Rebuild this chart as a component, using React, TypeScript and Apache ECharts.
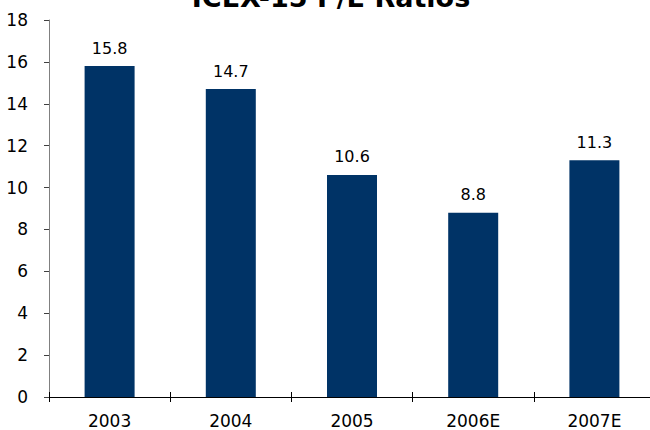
import React, { useEffect, useRef } from "react";
import * as echarts from "echarts";

const titleText = "ICEX-15 P/E Ratios";
const categories = ["2003", "2004", "2005", "2006E", "2007E"];
const peValues = [15.8, 14.7, 10.6, 8.8, 11.3];
const yMin = 0;
const yMax = 18;
const yInterval = 2;

export default function App() {
  const ref = useRef<HTMLDivElement>(null);
  useEffect(() => {
    if (!ref.current) return;
    const chart = echarts.init(ref.current, null, { renderer: "svg" });
    const font = "DejaVu Sans";
    chart.setOption({
      animation: false,
      backgroundColor: "#ffffff",
      graphic: [
        {
          type: "text",
          x: 331,
          y: -3,
          style: {
            text: titleText,
            font: `bold 27px "${font}"`,
            fill: "#000000",
            align: "center",
            verticalAlign: "middle",
          },
        },
      ],
      grid: { left: 49, right: 5, top: 20, bottom: 33 },
      xAxis: [
        {
          type: "category",
          data: categories,
          axisLine: { show: true, lineStyle: { color: "#000000", width: 1 } },
          axisTick: { show: true, length: 5, lineStyle: { color: "#000000" } },
          axisLabel: { color: "#000000", fontFamily: font, fontSize: 17, margin: 15 },
          splitLine: { show: false },
        },
        {
          type: "category",
          data: categories,
          position: "bottom",
          axisLine: { show: false },
          axisTick: { show: true, inside: true, length: 5, lineStyle: { color: "#000000" } },
          axisLabel: { show: false },
          splitLine: { show: false },
        },
      ],
      yAxis: {
        type: "value",
        min: yMin,
        max: yMax,
        interval: yInterval,
        axisLine: { show: true, lineStyle: { color: "#808080", width: 1 } },
        axisTick: { show: true, length: 5, lineStyle: { color: "#404040" } },
        axisLabel: { color: "#000000", fontFamily: font, fontSize: 17, margin: 21 },
        splitLine: { show: false },
      },
      series: [
        {
          type: "bar",
          data: peValues,
          barWidth: 50,
          itemStyle: { color: "#003366" },
          label: {
            show: true,
            position: "top",
            distance: 10,
            color: "#000000",
            fontFamily: font,
            fontSize: 16,
            formatter: (p: any) => Number(p.value).toFixed(1),
          },
        },
      ],
    });
    return () => chart.dispose();
  }, []);
  return (
    <div
      ref={ref}
      style={{ position: "fixed", left: 0, top: 0, width: 660, height: 430, background: "#fff" }}
    />
  );
}
